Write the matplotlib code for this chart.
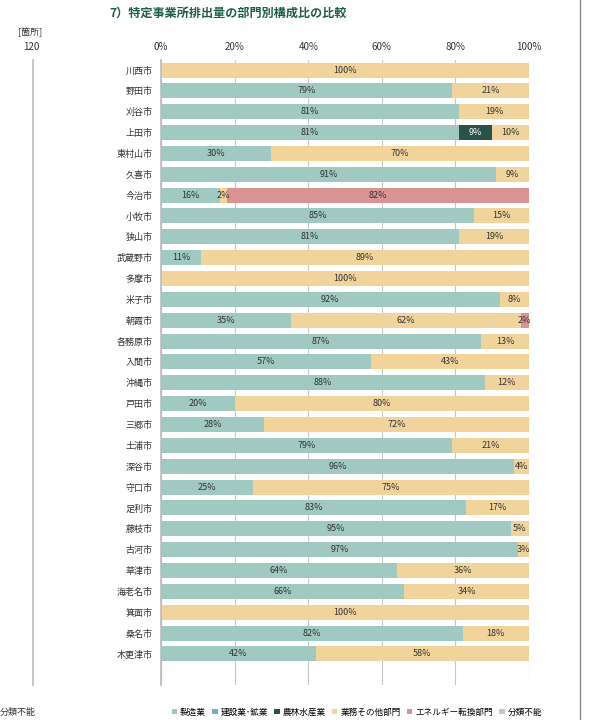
import matplotlib.pyplot as plt
import numpy as np

plt.rcParams['font.family'] = ['Noto Sans CJK JP', 'DejaVu Sans']

cities = ["川西市", "野田市", "刈谷市", "上田市", "東村山市", "久喜市", "今治市", "小牧市",
          "狭山市", "武蔵野市", "多摩市", "米子市", "朝霞市", "各務原市", "入間市", "沖縄市",
          "戸田市", "三郷市", "土浦市", "深谷市", "守口市", "足利市", "藤枝市", "古河市",
          "草津市", "海老名市", "箕面市", "桑名市", "木更津市"]

# shares in percent per sector
manufacturing = [0, 79, 81, 81, 30, 91, 16, 85, 81, 11, 0, 92, 35.4, 87, 57, 88,
                 20, 28, 79, 96, 25, 83, 95, 97, 64, 66, 0, 82, 42]
construction = [0] * 29
agriculture = [0, 0, 0, 9, 0, 0, 0, 0, 0, 0, 0, 0, 0, 0, 0, 0,
               0, 0, 0, 0, 0, 0, 0, 0, 0, 0, 0, 0, 0]
business = [100, 21, 19, 10, 70, 9, 2, 15, 19, 89, 100, 8, 62.3, 13, 43, 12,
            80, 72, 21, 4, 75, 17, 5, 3, 36, 34, 100, 18, 58]
energy = [0, 0, 0, 0, 0, 0, 82, 0, 0, 0, 0, 0, 2.3, 0, 0, 0,
          0, 0, 0, 0, 0, 0, 0, 0, 0, 0, 0, 0, 0]
unknown = [0] * 29

sectors = ["製造業", "建設業･鉱業", "農林水産業", "業務その他部門", "エネルギー転換部門", "分類不能"]
colors = ["#9fc9c1", "#78aeb6", "#2b5249", "#f0d49b", "#d99393", "#c8c8c8"]
series = [manufacturing, construction, agriculture, business, energy, unknown]

fig = plt.figure(figsize=(5.9, 7.2), dpi=100)
ax = fig.add_axes([161 / 590, 35 / 720, 368 / 590, 625 / 720])

y = np.arange(len(cities))
left = np.zeros(len(cities))
for name, col, vals in zip(sectors, colors, series):
    vals = np.array(vals, dtype=float)
    ax.barh(y, vals, left=left, height=0.72, color=col, label=name, zorder=2)
    for i, v in enumerate(vals):
        if v > 0:
            ax.text(left[i] + v / 2, i, f"{round(v)}%", ha="center", va="center",
                    fontsize=6.5, color="white" if col == "#2b5249" else "#333333", zorder=3)
    left += vals

ax.set_xlim(0, 100)
ax.set_ylim(29.49, -0.48)
ax.set_yticks(y)
ax.set_yticklabels(cities, fontsize=6.5, color="#333333")
ax.set_xticks(range(0, 101, 20))
ax.set_xticklabels([f"{t}%" for t in range(0, 101, 20)], fontsize=7, color="#333333")
ax.xaxis.tick_top()
ax.tick_params(length=0, pad=6)
ax.grid(axis="x", color="#c8c8c8", lw=0.8, zorder=0)
for s in ["top", "right", "bottom"]:
    ax.spines[s].set_visible(False)
ax.spines["left"].set_color("#bbbbbb")
ax.spines["left"].set_linewidth(1.2)

fig.text(228 / 590, 1 - 13 / 720, "7）特定事業所排出量の部門別構成比の比較", ha="center", va="center",
         fontsize=8.7, fontweight="bold", color="#1f5e4e")
fig.text(18 / 590, 1 - 32 / 720, "[箇所]", fontsize=6.5, color="#333333", va="center")
fig.text(31 / 590, 1 - 47 / 720, "120", fontsize=7, color="#333333", va="center", ha="center")
fig.add_artist(plt.Line2D([33 / 590, 33 / 590], [35 / 720, 660 / 720], color="#bbbbbb", lw=1.2))
fig.add_artist(plt.Line2D([580 / 590, 580 / 590], [0, 1], color="#888888", lw=1))
fig.text(0, 1 - 712 / 720, "分類不能", fontsize=6.5, color="#333333", va="center")

fig.legend(loc="center", bbox_to_anchor=(357 / 590, 1 - 712 / 720), ncol=6, fontsize=6.2,
           frameon=False, handlelength=0.6, handleheight=0.6, handletextpad=0.35,
           columnspacing=0.75)

fig.savefig("out.png", dpi=100)
